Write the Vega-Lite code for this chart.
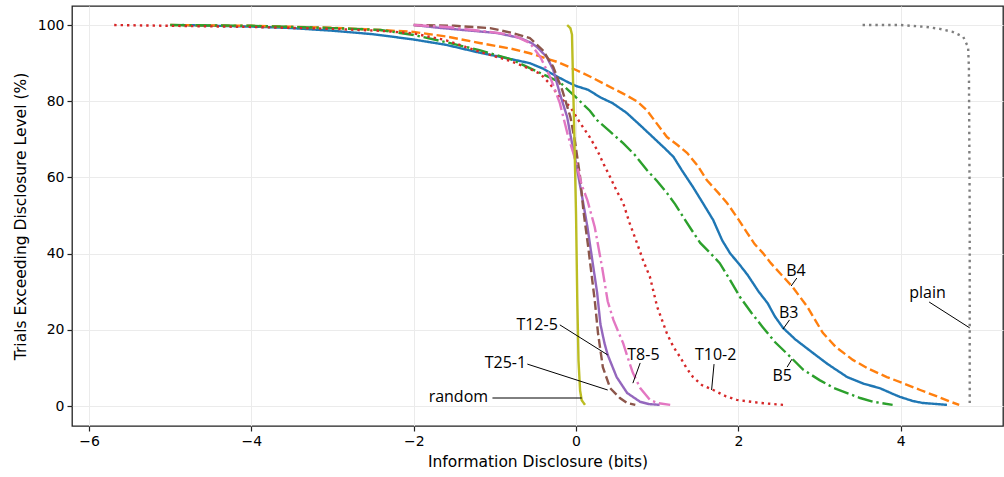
{
  "$schema": "https://vega.github.io/schema/vega-lite/v6.json",
  "width": 931,
  "height": 420,
  "autosize": {"type": "none"},
  "padding": {"left": 72, "top": 6, "right": 1, "bottom": 51},
  "background": "white",
  "config": {
    "view": {"stroke": "#222222", "strokeWidth": 1.3},
    "axis": {
      "domain": false,
      "gridColor": "#ebebeb",
      "gridWidth": 1,
      "tickColor": "#222222",
      "tickSize": 5,
      "tickWidth": 1.2,
      "labelFont": "DejaVu Sans",
      "labelFontSize": 14,
      "labelColor": "#000000",
      "titleFont": "DejaVu Sans",
      "titleFontSize": 15.5,
      "titleFontWeight": "normal",
      "titleColor": "#000000"
    }
  },
  "datasets": {
    "curves": [
      {"s": "B3", "x": -4.85, "y": 100}, {"s": "B3", "x": -4, "y": 99.6}, {"s": "B3", "x": -3.5, "y": 99.2}, {"s": "B3", "x": -3, "y": 98.5}, {"s": "B3", "x": -2.5, "y": 97.6}, {"s": "B3", "x": -2, "y": 96.2}, {"s": "B3", "x": -1.6, "y": 94.8}, {"s": "B3", "x": -1.2, "y": 92.8}, {"s": "B3", "x": -0.9, "y": 91.5}, {"s": "B3", "x": -0.57, "y": 90}, {"s": "B3", "x": -0.4, "y": 88.5}, {"s": "B3", "x": -0.28, "y": 87}, {"s": "B3", "x": -0.1, "y": 85}, {"s": "B3", "x": 0, "y": 84}, {"s": "B3", "x": 0.15, "y": 83}, {"s": "B3", "x": 0.3, "y": 81}, {"s": "B3", "x": 0.45, "y": 79.5}, {"s": "B3", "x": 0.62, "y": 77}, {"s": "B3", "x": 0.8, "y": 73.5}, {"s": "B3", "x": 0.95, "y": 70.5}, {"s": "B3", "x": 1.1, "y": 67.5}, {"s": "B3", "x": 1.2, "y": 65.4}, {"s": "B3", "x": 1.3, "y": 62}, {"s": "B3", "x": 1.44, "y": 57.5}, {"s": "B3", "x": 1.57, "y": 53}, {"s": "B3", "x": 1.69, "y": 48.8}, {"s": "B3", "x": 1.8, "y": 43.5}, {"s": "B3", "x": 1.9, "y": 40}, {"s": "B3", "x": 2.0, "y": 37.5}, {"s": "B3", "x": 2.11, "y": 34.5}, {"s": "B3", "x": 2.25, "y": 30}, {"s": "B3", "x": 2.36, "y": 27}, {"s": "B3", "x": 2.45, "y": 23.5}, {"s": "B3", "x": 2.55, "y": 20.5}, {"s": "B3", "x": 2.7, "y": 17.5}, {"s": "B3", "x": 2.92, "y": 13.9}, {"s": "B3", "x": 3.1, "y": 11}, {"s": "B3", "x": 3.34, "y": 7.6}, {"s": "B3", "x": 3.55, "y": 5.8}, {"s": "B3", "x": 3.74, "y": 4.7}, {"s": "B3", "x": 3.9, "y": 3.2}, {"s": "B3", "x": 3.99, "y": 2.4}, {"s": "B3", "x": 4.15, "y": 1.3}, {"s": "B3", "x": 4.27, "y": 0.8}, {"s": "B3", "x": 4.45, "y": 0.5}, {"s": "B3", "x": 4.57, "y": 0.3},

      {"s": "B4", "x": -5.0, "y": 100}, {"s": "B4", "x": -4, "y": 99.8}, {"s": "B4", "x": -3, "y": 99.3}, {"s": "B4", "x": -2.41, "y": 98.7}, {"s": "B4", "x": -2, "y": 98.2}, {"s": "B4", "x": -1.6, "y": 97}, {"s": "B4", "x": -1.19, "y": 95.3}, {"s": "B4", "x": -0.8, "y": 93.8}, {"s": "B4", "x": -0.57, "y": 92.6}, {"s": "B4", "x": -0.23, "y": 90.3}, {"s": "B4", "x": 0, "y": 88.2}, {"s": "B4", "x": 0.17, "y": 86.5}, {"s": "B4", "x": 0.35, "y": 84.5}, {"s": "B4", "x": 0.58, "y": 82}, {"s": "B4", "x": 0.75, "y": 80}, {"s": "B4", "x": 0.87, "y": 77.7}, {"s": "B4", "x": 1.0, "y": 74}, {"s": "B4", "x": 1.12, "y": 70.6}, {"s": "B4", "x": 1.25, "y": 68.5}, {"s": "B4", "x": 1.37, "y": 66.4}, {"s": "B4", "x": 1.5, "y": 63}, {"s": "B4", "x": 1.61, "y": 59.3}, {"s": "B4", "x": 1.75, "y": 56}, {"s": "B4", "x": 1.86, "y": 53.3}, {"s": "B4", "x": 2.0, "y": 49}, {"s": "B4", "x": 2.11, "y": 45.4}, {"s": "B4", "x": 2.2, "y": 42.5}, {"s": "B4", "x": 2.3, "y": 40.2}, {"s": "B4", "x": 2.4, "y": 37.5}, {"s": "B4", "x": 2.51, "y": 34.9}, {"s": "B4", "x": 2.67, "y": 31.2}, {"s": "B4", "x": 2.85, "y": 26}, {"s": "B4", "x": 3.04, "y": 19.2}, {"s": "B4", "x": 3.2, "y": 15.5}, {"s": "B4", "x": 3.41, "y": 12.1}, {"s": "B4", "x": 3.6, "y": 9.8}, {"s": "B4", "x": 3.83, "y": 7.6}, {"s": "B4", "x": 4.05, "y": 5.8}, {"s": "B4", "x": 4.24, "y": 4.2}, {"s": "B4", "x": 4.45, "y": 2.5}, {"s": "B4", "x": 4.6, "y": 1.2}, {"s": "B4", "x": 4.72, "y": 0.3},

      {"s": "B5", "x": -5.0, "y": 100}, {"s": "B5", "x": -4, "y": 99.8}, {"s": "B5", "x": -3, "y": 99.2}, {"s": "B5", "x": -2.41, "y": 98.7}, {"s": "B5", "x": -2, "y": 97.4}, {"s": "B5", "x": -1.6, "y": 95.5}, {"s": "B5", "x": -1.19, "y": 93.4}, {"s": "B5", "x": -0.8, "y": 91}, {"s": "B5", "x": -0.57, "y": 88.7}, {"s": "B5", "x": -0.2, "y": 85}, {"s": "B5", "x": 0, "y": 81}, {"s": "B5", "x": 0.17, "y": 77.5}, {"s": "B5", "x": 0.26, "y": 75}, {"s": "B5", "x": 0.42, "y": 72}, {"s": "B5", "x": 0.58, "y": 69}, {"s": "B5", "x": 0.72, "y": 66}, {"s": "B5", "x": 0.87, "y": 62}, {"s": "B5", "x": 1.0, "y": 59}, {"s": "B5", "x": 1.12, "y": 55.9}, {"s": "B5", "x": 1.22, "y": 53}, {"s": "B5", "x": 1.32, "y": 49.6}, {"s": "B5", "x": 1.43, "y": 46}, {"s": "B5", "x": 1.53, "y": 42.8}, {"s": "B5", "x": 1.65, "y": 40.2}, {"s": "B5", "x": 1.77, "y": 37.5}, {"s": "B5", "x": 1.9, "y": 33}, {"s": "B5", "x": 2.02, "y": 28.6}, {"s": "B5", "x": 2.16, "y": 24.5}, {"s": "B5", "x": 2.3, "y": 20.7}, {"s": "B5", "x": 2.45, "y": 16.8}, {"s": "B5", "x": 2.64, "y": 12.9}, {"s": "B5", "x": 2.8, "y": 9.5}, {"s": "B5", "x": 3.0, "y": 6.8}, {"s": "B5", "x": 3.17, "y": 4.8}, {"s": "B5", "x": 3.34, "y": 3.4}, {"s": "B5", "x": 3.5, "y": 2.1}, {"s": "B5", "x": 3.66, "y": 1.1}, {"s": "B5", "x": 3.9, "y": 0.3},

      {"s": "T10-2", "x": -5.69, "y": 100}, {"s": "T10-2", "x": -5, "y": 99.8}, {"s": "T10-2", "x": -4, "y": 99.5}, {"s": "T10-2", "x": -3, "y": 99}, {"s": "T10-2", "x": -2.41, "y": 98.5}, {"s": "T10-2", "x": -2, "y": 97.8}, {"s": "T10-2", "x": -1.6, "y": 96}, {"s": "T10-2", "x": -1.19, "y": 93}, {"s": "T10-2", "x": -0.8, "y": 90.5}, {"s": "T10-2", "x": -0.57, "y": 88.5}, {"s": "T10-2", "x": -0.44, "y": 87.2}, {"s": "T10-2", "x": -0.32, "y": 84.5}, {"s": "T10-2", "x": -0.2, "y": 81}, {"s": "T10-2", "x": -0.07, "y": 78.5}, {"s": "T10-2", "x": 0.05, "y": 74.3}, {"s": "T10-2", "x": 0.17, "y": 70.5}, {"s": "T10-2", "x": 0.26, "y": 67.2}, {"s": "T10-2", "x": 0.34, "y": 63.5}, {"s": "T10-2", "x": 0.42, "y": 60.1}, {"s": "T10-2", "x": 0.5, "y": 56.5}, {"s": "T10-2", "x": 0.58, "y": 53.3}, {"s": "T10-2", "x": 0.66, "y": 48}, {"s": "T10-2", "x": 0.75, "y": 42.8}, {"s": "T10-2", "x": 0.83, "y": 38}, {"s": "T10-2", "x": 0.91, "y": 33.9}, {"s": "T10-2", "x": 1.0, "y": 26}, {"s": "T10-2", "x": 1.06, "y": 22.5}, {"s": "T10-2", "x": 1.12, "y": 19}, {"s": "T10-2", "x": 1.2, "y": 15.5}, {"s": "T10-2", "x": 1.28, "y": 12.9}, {"s": "T10-2", "x": 1.36, "y": 10}, {"s": "T10-2", "x": 1.44, "y": 7.6}, {"s": "T10-2", "x": 1.55, "y": 5.5}, {"s": "T10-2", "x": 1.69, "y": 4.2}, {"s": "T10-2", "x": 1.85, "y": 2.5}, {"s": "T10-2", "x": 1.98, "y": 1.6}, {"s": "T10-2", "x": 2.27, "y": 0.8}, {"s": "T10-2", "x": 2.55, "y": 0.3},

      {"s": "T12-5", "x": -2.0, "y": 100}, {"s": "T12-5", "x": -1.7, "y": 99.3}, {"s": "T12-5", "x": -1.39, "y": 98.7}, {"s": "T12-5", "x": -0.97, "y": 97.9}, {"s": "T12-5", "x": -0.69, "y": 96.6}, {"s": "T12-5", "x": -0.55, "y": 95.3}, {"s": "T12-5", "x": -0.48, "y": 94.2}, {"s": "T12-5", "x": -0.36, "y": 91.6}, {"s": "T12-5", "x": -0.28, "y": 88.2}, {"s": "T12-5", "x": -0.2, "y": 82}, {"s": "T12-5", "x": -0.11, "y": 75.9}, {"s": "T12-5", "x": -0.05, "y": 69}, {"s": "T12-5", "x": 0.01, "y": 62.5}, {"s": "T12-5", "x": 0.07, "y": 55.5}, {"s": "T12-5", "x": 0.14, "y": 47}, {"s": "T12-5", "x": 0.2, "y": 38.3}, {"s": "T12-5", "x": 0.26, "y": 29.7}, {"s": "T12-5", "x": 0.3, "y": 21.5}, {"s": "T12-5", "x": 0.35, "y": 16.5}, {"s": "T12-5", "x": 0.39, "y": 13.4}, {"s": "T12-5", "x": 0.5, "y": 7.6}, {"s": "T12-5", "x": 0.63, "y": 3.4}, {"s": "T12-5", "x": 0.79, "y": 1.1}, {"s": "T12-5", "x": 0.9, "y": 0.5}, {"s": "T12-5", "x": 1.03, "y": 0.3},

      {"s": "T25-1", "x": -2.0, "y": 100}, {"s": "T25-1", "x": -1.5, "y": 99.8}, {"s": "T25-1", "x": -1.06, "y": 99.2}, {"s": "T25-1", "x": -0.78, "y": 97.9}, {"s": "T25-1", "x": -0.57, "y": 96.6}, {"s": "T25-1", "x": -0.41, "y": 93.4}, {"s": "T25-1", "x": -0.28, "y": 89}, {"s": "T25-1", "x": -0.17, "y": 82.9}, {"s": "T25-1", "x": -0.07, "y": 75.9}, {"s": "T25-1", "x": -0.01, "y": 69}, {"s": "T25-1", "x": 0.05, "y": 60.1}, {"s": "T25-1", "x": 0.09, "y": 51.4}, {"s": "T25-1", "x": 0.15, "y": 41.7}, {"s": "T25-1", "x": 0.21, "y": 31.2}, {"s": "T25-1", "x": 0.23, "y": 27.8}, {"s": "T25-1", "x": 0.27, "y": 19.2}, {"s": "T25-1", "x": 0.33, "y": 10.2}, {"s": "T25-1", "x": 0.42, "y": 4.7}, {"s": "T25-1", "x": 0.54, "y": 2.1}, {"s": "T25-1", "x": 0.63, "y": 0.8}, {"s": "T25-1", "x": 0.73, "y": 0.3},

      {"s": "T8-5", "x": -2.0, "y": 100}, {"s": "T8-5", "x": -1.59, "y": 99.5}, {"s": "T8-5", "x": -1.06, "y": 98.2}, {"s": "T8-5", "x": -0.78, "y": 97.4}, {"s": "T8-5", "x": -0.57, "y": 95.3}, {"s": "T8-5", "x": -0.44, "y": 91.6}, {"s": "T8-5", "x": -0.32, "y": 86.4}, {"s": "T8-5", "x": -0.2, "y": 79.5}, {"s": "T8-5", "x": -0.1, "y": 71}, {"s": "T8-5", "x": 0.0, "y": 64}, {"s": "T8-5", "x": 0.07, "y": 58}, {"s": "T8-5", "x": 0.14, "y": 54}, {"s": "T8-5", "x": 0.23, "y": 47}, {"s": "T8-5", "x": 0.32, "y": 36.5}, {"s": "T8-5", "x": 0.39, "y": 27.5}, {"s": "T8-5", "x": 0.46, "y": 22.6}, {"s": "T8-5", "x": 0.52, "y": 19.5}, {"s": "T8-5", "x": 0.58, "y": 16.5}, {"s": "T8-5", "x": 0.64, "y": 12.5}, {"s": "T8-5", "x": 0.7, "y": 8.7}, {"s": "T8-5", "x": 0.79, "y": 4.7}, {"s": "T8-5", "x": 0.91, "y": 1.6}, {"s": "T8-5", "x": 1.0, "y": 0.8}, {"s": "T8-5", "x": 1.16, "y": 0.3},

      {"s": "plain", "x": 3.53, "y": 100}, {"s": "plain", "x": 4.0, "y": 100}, {"s": "plain", "x": 4.32, "y": 99.5}, {"s": "plain", "x": 4.48, "y": 99}, {"s": "plain", "x": 4.64, "y": 98.2}, {"s": "plain", "x": 4.77, "y": 96.9}, {"s": "plain", "x": 4.83, "y": 94.2}, {"s": "plain", "x": 4.84, "y": 89}, {"s": "plain", "x": 4.85, "y": 50}, {"s": "plain", "x": 4.85, "y": 0.3},

      {"s": "random", "x": -0.11, "y": 100}, {"s": "random", "x": -0.07, "y": 99.2}, {"s": "random", "x": -0.05, "y": 97.5}, {"s": "random", "x": -0.04, "y": 88}, {"s": "random", "x": -0.02, "y": 70}, {"s": "random", "x": 0.0, "y": 50}, {"s": "random", "x": 0.015, "y": 28}, {"s": "random", "x": 0.03, "y": 12}, {"s": "random", "x": 0.05, "y": 4}, {"s": "random", "x": 0.07, "y": 1.5}, {"s": "random", "x": 0.11, "y": 0.3}
    ],
    "labels": [
      {"t": "B4", "x": 2.71, "y": 35.4},
      {"t": "B3", "x": 2.62, "y": 24.4},
      {"t": "B5", "x": 2.54, "y": 7.9},
      {"t": "T10-2", "x": 1.72, "y": 13.4},
      {"t": "plain", "x": 4.33, "y": 29.7},
      {"t": "T12-5", "x": -0.48, "y": 21.3},
      {"t": "T8-5", "x": 0.83, "y": 13.4},
      {"t": "T25-1", "x": -0.87, "y": 11.3},
      {"t": "random", "x": -1.45, "y": 2.4}
    ],
    "leaders": [
      {"t": "B4", "x": 2.72, "y": 33.6, "x2": 2.65, "y2": 31.5},
      {"t": "B3", "x": 2.63, "y": 22.6, "x2": 2.55, "y2": 20.2},
      {"t": "B5", "x": 2.6, "y": 10.2, "x2": 2.66, "y2": 12.3},
      {"t": "T10-2", "x": 1.7, "y": 11.0, "x2": 1.67, "y2": 4.2},
      {"t": "plain", "x": 4.35, "y": 27.3, "x2": 4.85, "y2": 20.5},
      {"t": "T12-5", "x": -0.2, "y": 21.3, "x2": 0.39, "y2": 13.4},
      {"t": "T8-5", "x": 0.79, "y": 11.3, "x2": 0.7, "y2": 6.0},
      {"t": "T25-1", "x": -0.6, "y": 11.0, "x2": 0.39, "y2": 4.2},
      {"t": "random", "x": -1.03, "y": 2.1, "x2": 0.07, "y2": 2.1}
    ]
  },
  "layer": [
    {
      "data": {"name": "curves"},
      "mark": {"type": "line", "strokeWidth": 2.4, "clip": true},
      "encoding": {
        "x": {
          "field": "x", "type": "quantitative",
          "scale": {"domain": [-6.21, 5.26], "nice": false, "zero": false},
          "axis": {"values": [-6, -4, -2, 0, 2, 4], "format": "d", "title": "Information Disclosure (bits)", "labelPadding": 3, "titlePadding": 6}
        },
        "y": {
          "field": "y", "type": "quantitative",
          "scale": {"domain": [-5.25, 105], "nice": false, "zero": false},
          "axis": {"values": [0, 20, 40, 60, 80, 100], "format": "d", "title": "Trials Exceeding Disclosure Level (%)", "labelPadding": 3, "titlePadding": 9}
        },
        "color": {
          "field": "s", "type": "nominal", "legend": null,
          "scale": {
            "domain": ["B3", "B4", "B5", "T10-2", "T12-5", "T25-1", "T8-5", "plain", "random"],
            "range": ["#1f77b4", "#ff7f0e", "#2ca02c", "#d62728", "#9467bd", "#8c564b", "#e377c2", "#7f7f7f", "#bcbd22"]
          }
        },
        "strokeDash": {
          "field": "s", "type": "nominal", "legend": null,
          "scale": {
            "domain": ["B3", "B4", "B5", "T10-2", "T12-5", "T25-1", "T8-5", "plain", "random"],
            "range": [[1, 0], [8.9, 3.8], [15.4, 3.8, 2.4, 3.8], [2.4, 4], [1, 0], [8.9, 3.8], [15.4, 3.8, 2.4, 3.8], [2.4, 4], [1, 0]]
          }
        },
        "order": {"value": null}
      }
    },
    {
      "data": {"name": "leaders"},
      "mark": {"type": "rule", "color": "black", "strokeWidth": 1},
      "encoding": {
        "x": {"field": "x", "type": "quantitative"},
        "y": {"field": "y", "type": "quantitative"},
        "x2": {"field": "x2"},
        "y2": {"field": "y2"}
      }
    },
    {
      "data": {"name": "labels"},
      "mark": {"type": "text", "font": "Open Sans", "fontSize": 16, "align": "center", "baseline": "middle", "color": "black"},
      "encoding": {
        "x": {"field": "x", "type": "quantitative"},
        "y": {"field": "y", "type": "quantitative"},
        "text": {"field": "t"}
      }
    }
  ]
}
